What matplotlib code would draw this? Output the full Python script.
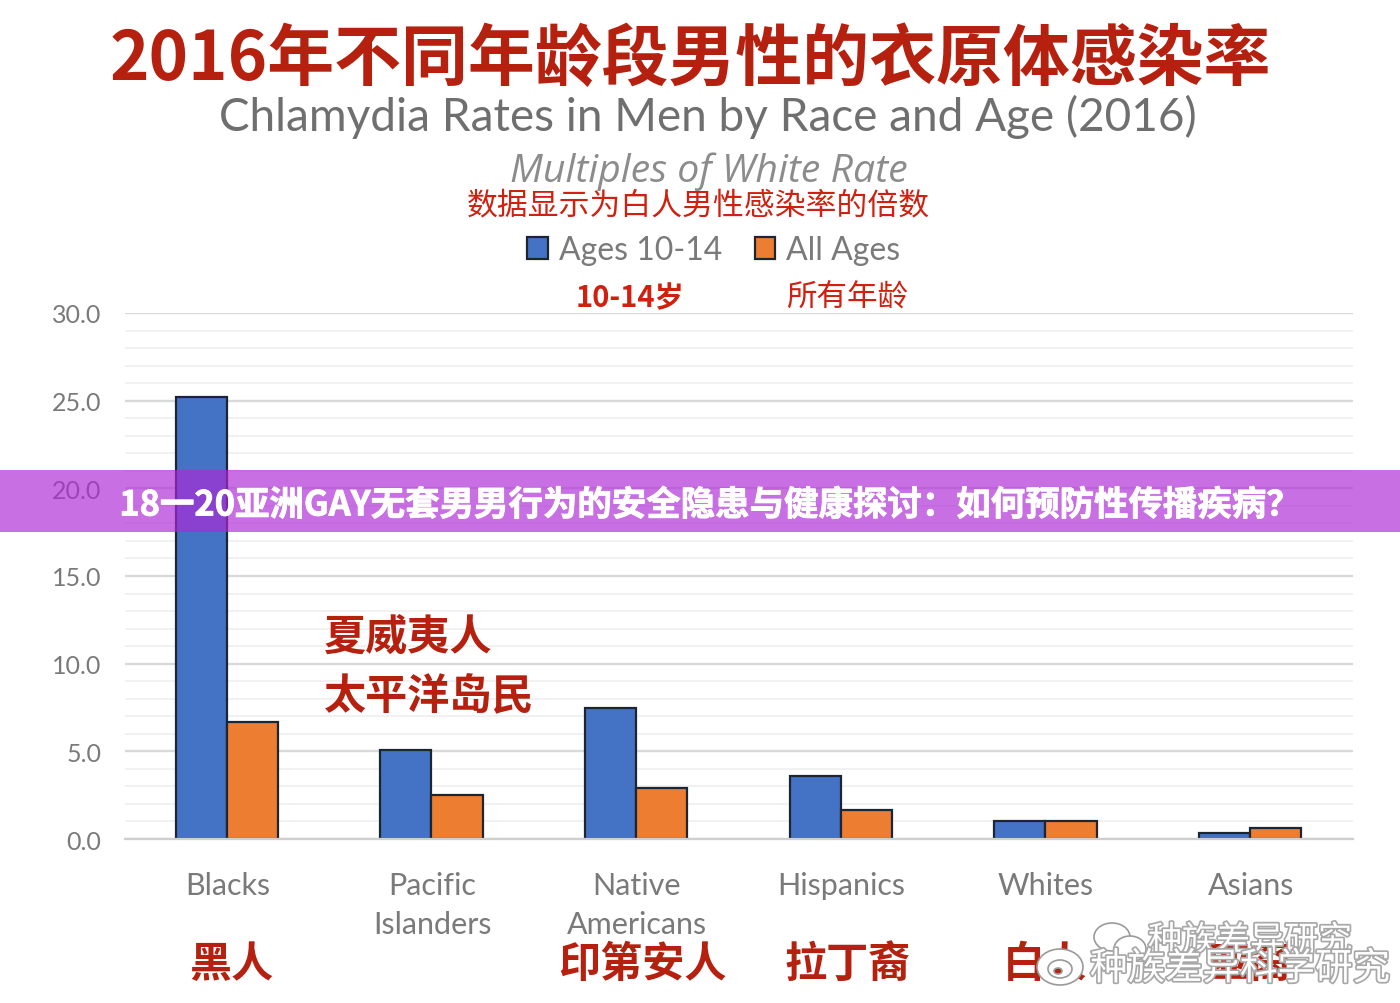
import matplotlib
matplotlib.use("Agg")
import matplotlib.pyplot as plt
import matplotlib.patheffects as pe
from matplotlib.patches import Rectangle, Ellipse

plt.rcParams["font.family"] = ["Noto Sans CJK SC", "DejaVu Sans"]

categories = ["Blacks", "Pacific\nIslanders", "Native\nAmericans", "Hispanics", "Whites", "Asians"]
cn_labels = ["黑人", "印第安人", "拉丁裔", "白人", "亚裔"]
cn_x = [231, 642, 848, 1045, 1250]
ages_10_14 = [25.2, 5.1, 7.5, 3.6, 1.0, 0.35]
all_ages = [6.65, 2.5, 2.9, 1.65, 1.0, 0.6]
major_ticks = [0, 5, 10, 15, 20, 25, 30]
minor_ticks = [1, 2, 3, 4, 6, 7, 8, 9, 11, 12, 13, 14, 16, 17, 18, 19, 21, 22, 23, 24, 26, 27, 28, 29]

W, H = 1400, 1004
GRAY = "#7a7a7a"
RED = "#d0200f"
DARK_RED = "#b5200f"


def px(x, y):
    return x / W, 1 - y / H


fig = plt.figure(figsize=(14, 10.04), dpi=100)
ax = fig.add_axes([125 / W, 1 - 840 / H, (1353 - 125) / W, (840 - 314) / H])

x = list(range(len(categories)))
w = 0.25
b1 = ax.bar([i - w / 2 - 0.003 for i in x], ages_10_14, w, color="#4472c4", edgecolor="#1c2530", linewidth=1.6, zorder=3, label="Ages 10-14")
b2 = ax.bar([i + w / 2 - 0.003 for i in x], all_ages, w, color="#ed7d31", edgecolor="#1c2530", linewidth=1.6, zorder=3, label="All Ages")

ax.set_xlim(-0.5, 5.5)
ax.set_ylim(0, 30)
ax.set_yticks(major_ticks)
ax.set_yticklabels([f"{v:.1f}" for v in major_ticks], family="Lato", fontsize=18, color=GRAY)
ax.set_yticks(minor_ticks, minor=True)
ax.set_xticks(x)
ax.set_xticklabels(categories, family="Lato", fontsize=22, color=GRAY, linespacing=1.5)
ax.tick_params(axis="both", which="both", length=0)
ax.tick_params(axis="y", pad=17)
ax.tick_params(axis="x", pad=23)
ax.grid(True, axis="y", which="major", color="#d9d9d9", linewidth=1.7, zorder=0)
ax.grid(True, axis="y", which="minor", color="#f1f1f1", linewidth=1.4, zorder=0)
for s in ["top", "right", "left"]:
    ax.spines[s].set_visible(False)
ax.spines["bottom"].set_color("#cfcfcf")
ax.spines["bottom"].set_linewidth(1.6)
ax.spines["bottom"].set_zorder(4)

fig.text(*px(690, 60), "2016年不同年龄段男性的衣原体感染率", color=DARK_RED, fontsize=48.2, fontweight="bold", ha="center", va="center")
fig.text(*px(708, 117), "Chlamydia Rates in Men by Race and Age (2016)", color="#6f6f6f", family="Lato", fontsize=33, ha="center", va="center")
fig.text(*px(709, 172), "Multiples of White Rate", color="#8c8c8c", family="Open Sans", style="italic", fontsize=28.3, ha="center", va="center")
fig.text(*px(698, 206), "数据显示为白人男性感染率的倍数", color=RED, fontsize=22.2, fontweight="medium", ha="center", va="center")

fig.legend(handles=[b1, b2], loc="center", bbox_to_anchor=px(714, 251), ncol=2, frameon=False,
           prop={"family": "Lato", "size": 23}, labelcolor=GRAY, handlelength=0.65, handleheight=0.7,
           handletextpad=0.35, columnspacing=1.0)

fig.text(*px(630, 298), "10-14岁", color=RED, fontsize=21, fontweight="bold", ha="center", va="center")
fig.text(*px(847, 298), "所有年龄", color=RED, fontsize=22, fontweight="medium", ha="center", va="center")

fig.text(*px(324, 638), "夏威夷人", color=DARK_RED, fontsize=30.3, fontweight="bold", ha="left", va="center")
fig.text(*px(324, 697), "太平洋岛民", color=DARK_RED, fontsize=30.3, fontweight="bold", ha="left", va="center")

for label, cx in zip(cn_labels, cn_x):
    fig.text(*px(cx, 965), label, color=DARK_RED, fontsize=30.3, fontweight="bold", ha="center", va="center")

# banner across the middle
fig.add_artist(Rectangle((0, 1 - 533 / H), 1, 62 / H, transform=fig.transFigure, facecolor="#ad29d7", alpha=0.67, edgecolor="none", zorder=5))
fig.text(*px(711, 506), "18一20亚洲GAY无套男男行为的安全隐患与健康探讨：如何预防性传播疾病？", color="white", fontsize=24.8,
         fontweight="bold", ha="center", va="center", zorder=6,
         path_effects=[pe.withStroke(linewidth=0.6, foreground="white")])

# watermarks
shadow = [pe.withStroke(linewidth=2.5, foreground="#a8a8a8")]
fig.text(*px(1250, 942), "种族差异研究", color="white", fontsize=24.5, ha="center", va="center", path_effects=shadow, zorder=6)
fig.text(*px(1240, 970), "种族差异科学研究", color="white", fontsize=27, ha="center", va="center", path_effects=shadow, zorder=7)
icons = [(1112, 938, 36, 28, "white"), (1130, 950, 32, 26, "white"), (1060, 968, 46, 36, "white"), (1060, 970, 24, 18, "white"), (1058, 972, 8, 6, DARK_RED)]
for cx, cy, ew, eh, c in icons:
    fig.add_artist(Ellipse((cx / W, 1 - cy / H), ew / W, eh / H, transform=fig.transFigure, facecolor=c,
                           edgecolor="#9a9a9a", linewidth=1.2, zorder=6))

fig.savefig("out.png", dpi=100)
